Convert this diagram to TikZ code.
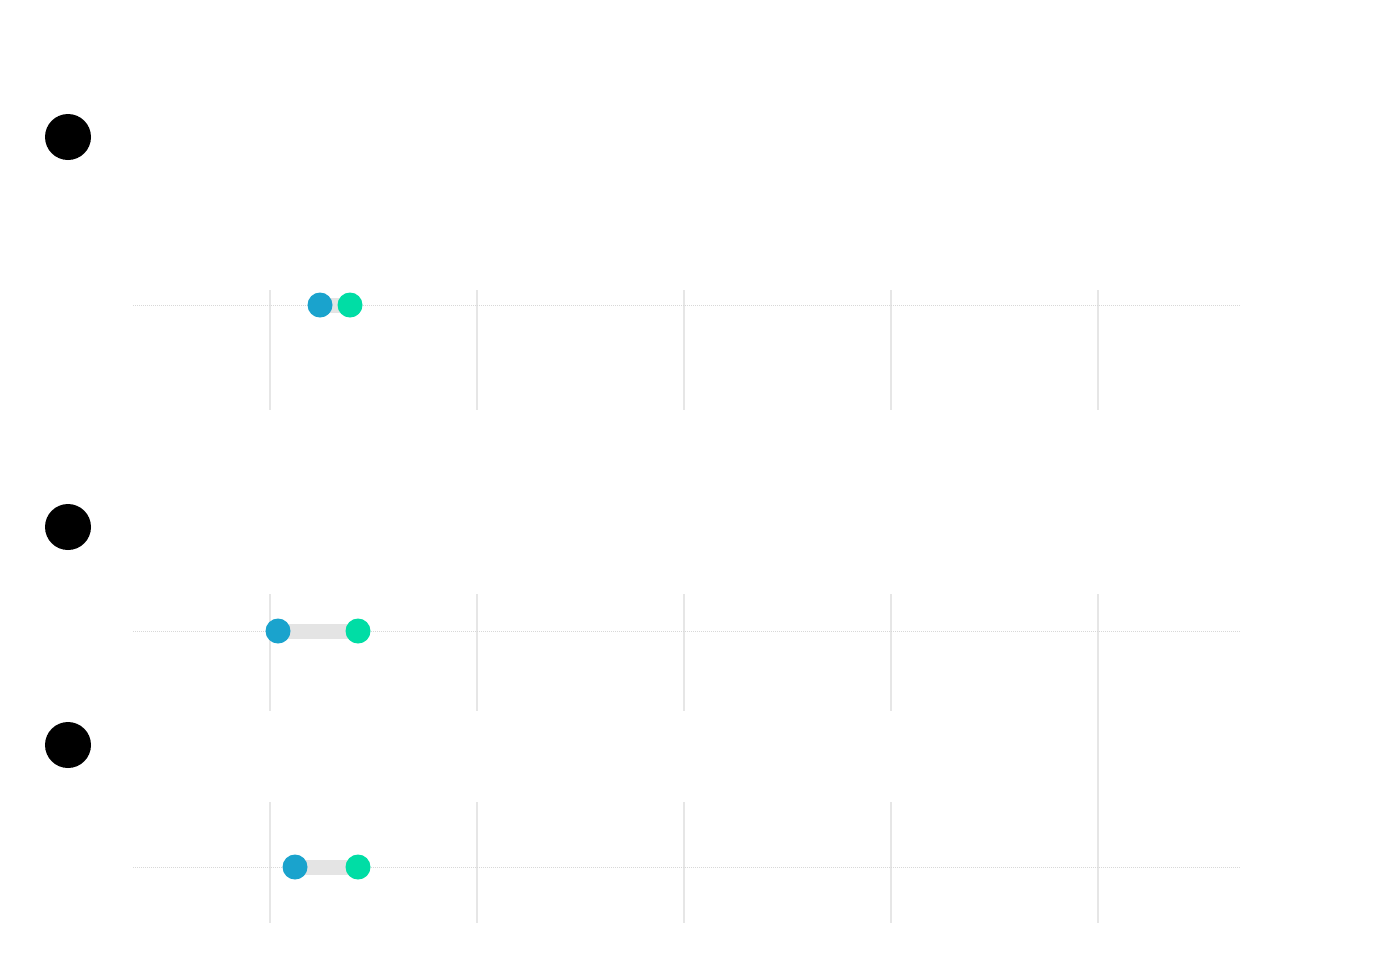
\documentclass[tikz,border=0pt]{standalone}
\definecolor{dotblue}{HTML}{1AA3CD}
\definecolor{dotgreen}{HTML}{00DDA5}
\definecolor{bargray}{HTML}{E4E4E4}
\definecolor{gridgray}{HTML}{E6E6E6}
\definecolor{dotgrid}{HTML}{D8D8D8}
\begin{document}
\begin{tikzpicture}[x=1pt,y=-1pt,
  marker/.style={circle,fill=black,inner sep=0pt,minimum size=46pt},
  bluedot/.style={circle,fill=dotblue,inner sep=0pt,minimum size=25pt},
  greendot/.style={circle,fill=dotgreen,inner sep=0pt,minimum size=25pt},
  rangebar/.style={draw=bargray,line width=15pt},
  vgrid/.style={draw=gridgray,line width=1.2pt},
  hgrid/.style={draw=dotgrid,line width=0.6pt,dash pattern=on 1pt off 1pt}]
\useasboundingbox[fill=white] (0,0) rectangle (1380,962);
% markers
\node[marker] (m1) at (68,137) {};
\node[marker] (m2) at (68,527) {};
\node[marker] (m3) at (68,745) {};
% panel 1
\foreach \x in {270,477,684,891,1098} \draw[vgrid] (\x,290) -- (\x,410);
\draw[hgrid] (133,305) -- (1240,305);
\coordinate (b1) at (320,305);
\coordinate (g1) at (350,305);
\draw[rangebar] (b1) -- (g1);
\node[bluedot] (B1) at (b1) {};
\node[greendot] (G1) at (g1) {};
% panel 2
\foreach \x in {270,477,684,891} \draw[vgrid] (\x,594) -- (\x,711);
\draw[vgrid] (1098,594) -- (1098,923);
\draw[hgrid] (133,631) -- (1240,631);
\coordinate (b2) at (278,631);
\coordinate (g2) at (358,631);
\draw[rangebar] (b2) -- (g2);
\node[bluedot] (B2) at (b2) {};
\node[greendot] (G2) at (g2) {};
% panel 3
\foreach \x in {270,477,684,891} \draw[vgrid] (\x,802) -- (\x,923);
\draw[hgrid] (133,867) -- (1240,867);
\coordinate (b3) at (295,867);
\coordinate (g3) at (358,867);
\draw[rangebar] (b3) -- (g3);
\node[bluedot] (B3) at (b3) {};
\node[greendot] (G3) at (g3) {};
\end{tikzpicture}
\end{document}
